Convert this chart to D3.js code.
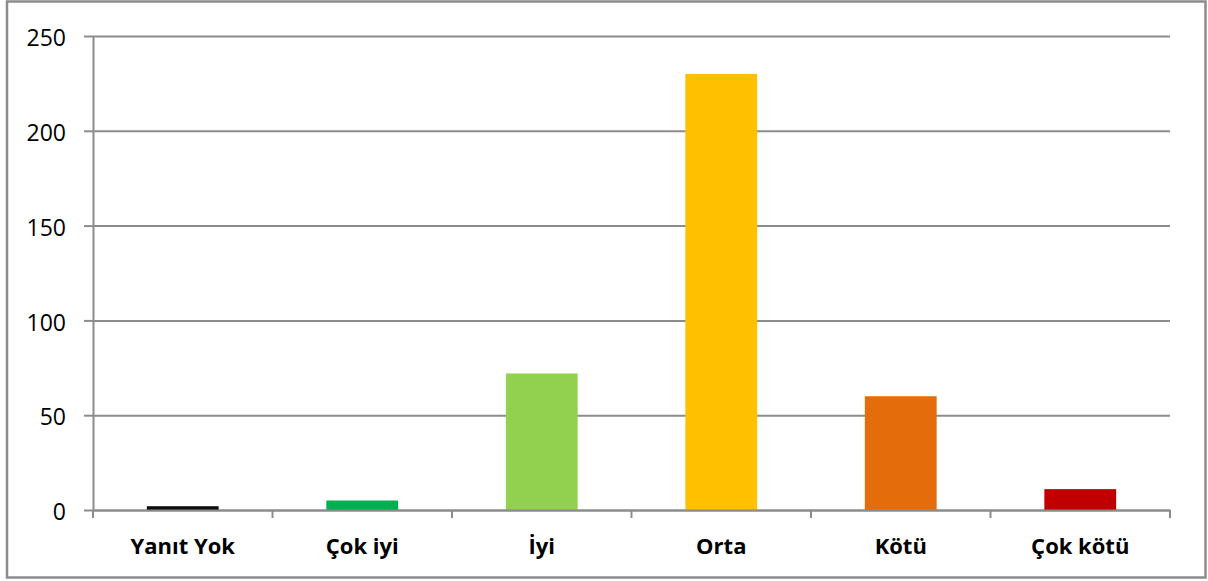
<!DOCTYPE html>
<html><head><meta charset="utf-8">
<script src="https://cdn.jsdelivr.net/npm/d3@7"></script>
<style>body{margin:0;background:#fff}svg{display:block}</style>
</head><body>
<script>
const categories = ["Yanıt Yok", "Çok iyi", "İyi", "Orta", "Kötü", "Çok kötü"];
const values = [2, 5, 72, 230, 60, 11];
const colors = ["#0d0d0d", "#00b050", "#92d050", "#ffc000", "#e46c0a", "#c00000"];
const yTicks = [0, 50, 100, 150, 200, 250];

const W = 1208, H = 581;
const svg = d3.select("body").append("svg").attr("width", W).attr("height", H);
svg.append("rect").attr("x", 7).attr("y", 1.5).attr("width", 1198.5).attr("height", 576)
  .attr("fill", "#fff").attr("stroke", "#8c8c8c").attr("stroke-width", 2.5);

const m = {left: 93, right: 1170, top: 36, bottom: 510};
const x = d3.scaleBand().domain(categories).range([m.left, m.right]).paddingInner(0.6).paddingOuter(0.3);
const xb = d3.scaleBand().domain(categories).range([m.left, m.right]);
const y = d3.scaleLinear().domain([0, 250]).range([m.bottom, m.top]);

const font = "'Open Sans', sans-serif";
// gridlines
const gy = svg.append("g").attr("transform", `translate(${m.left},0)`)
  .call(d3.axisLeft(y).tickValues(yTicks).tickSize(-(m.right - m.left)).tickFormat(""));
gy.select(".domain").remove();
gy.selectAll("line").attr("stroke", "#8c8c8c").attr("stroke-width", 2);
// y tick marks extending left + labels
const ya = svg.append("g").attr("transform", `translate(${m.left},0)`)
  .call(d3.axisLeft(y).tickValues(yTicks).tickSize(9).tickPadding(18).tickSizeOuter(0));
ya.select(".domain").attr("stroke", "#8c8c8c").attr("stroke-width", 2);
ya.selectAll("line").attr("stroke", "#8c8c8c").attr("stroke-width", 2);
ya.selectAll("text").attr("font-family", font).attr("font-size", 23).attr("fill", "#000").attr("dy", "0.42em");

// bars
svg.append("g").selectAll("rect").data(categories).join("rect")
  .attr("x", d => x(d)).attr("width", x.bandwidth())
  .attr("y", (d, i) => y(values[i])).attr("height", (d, i) => y(0) - y(values[i]))
  .attr("fill", (d, i) => colors[i]);

// x axis
const xa = svg.append("g").attr("transform", `translate(0,${m.bottom})`)
  .call(d3.axisBottom(xb).tickSize(0).tickPadding(28));
xa.select(".domain").attr("stroke", "#8c8c8c").attr("stroke-width", 2);
xa.selectAll("text").attr("font-family", font).attr("font-size", 22).attr("font-weight", "bold").attr("fill", "#000");
const edges = categories.map(c => xb(c)).concat([m.right]);
svg.append("g").selectAll("line").data(edges).join("line")
  .attr("x1", d => d).attr("x2", d => d).attr("y1", m.bottom).attr("y2", m.bottom + 8)
  .attr("stroke", "#8c8c8c").attr("stroke-width", 2);
</script>
</body></html>
